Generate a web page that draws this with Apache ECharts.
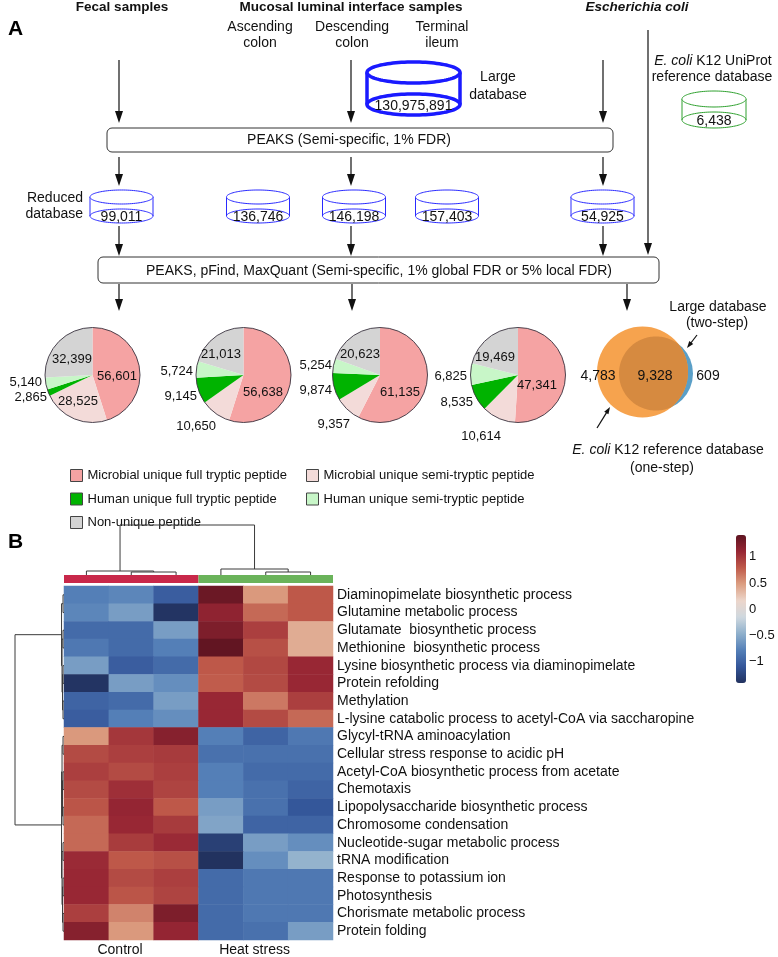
<!DOCTYPE html>
<html><head><meta charset="utf-8">
<script src="https://cdn.jsdelivr.net/npm/echarts@6/dist/echarts.min.js"></script>
<style>html,body{margin:0;padding:0;background:#fff}#c{width:778px;height:957px}</style>
</head><body><div id="c"></div>
<script>
// ---------------- DATA ----------------
const pieCategories = ['Microbial unique full tryptic peptide','Microbial unique semi-tryptic peptide','Human unique full tryptic peptide','Human unique semi-tryptic peptide','Non-unique peptide'];
const pieFecal = [56601, 28525, 2865, 5140, 32399];
const pieAscending = [56638, 10650, 9145, 5724, 21013];
const pieDescending = [61135, 9357, 9874, 5254, 20623];
const pieIleum = [47341, 10614, 8535, 6825, 19469];
const reducedDbSizes = [99011, 136746, 146198, 157403, 54925];
const largeDbSize = 130975891;
const ecoliDbSize = 6438;
const vennCounts = [4783, 9328, 609];

const heatRows = [
'Diaminopimelate biosynthetic process',
'Glutamine metabolic process',
'Glutamate  biosynthetic process',
'Methionine  biosynthetic process',
'Lysine biosynthetic process via diaminopimelate',
'Protein refolding',
'Methylation',
'L-lysine catabolic process to acetyl-CoA via saccharopine',
'Glycyl-tRNA aminoacylation',
'Cellular stress response to acidic pH',
'Acetyl-CoA biosynthetic process from acetate',
'Chemotaxis',
'Lipopolysaccharide biosynthetic process',
'Chromosome condensation',
'Nucleotide-sugar metabolic process',
'tRNA modification',
'Response to potassium ion',
'Photosynthesis',
'Chorismate metabolic process',
'Protein folding'];
const heatCols = ['Control 1','Control 2','Control 3','Heat stress 1','Heat stress 2','Heat stress 3'];
const groupLabels = ['Control','Heat stress'];
const heatValues = [
[-0.80,-0.75,-1.05, 1.35, 0.50, 0.80],
[-0.75,-0.60,-1.40, 1.15, 0.72, 0.80],
[-0.95,-0.95,-0.60, 1.25, 0.95, 0.40],
[-0.85,-0.95,-0.80, 1.40, 0.85, 0.40],
[-0.60,-1.05,-0.95, 0.80, 0.90, 1.10],
[-1.40,-0.60,-0.70, 0.78, 0.88, 1.10],
[-1.00,-0.95,-0.60, 1.10, 0.65, 0.95],
[-1.05,-0.80,-0.70, 1.10, 0.88, 0.72],
[ 0.50, 1.00, 1.20,-0.80,-1.00,-0.85],
[ 0.88, 0.95, 0.98,-0.90,-0.90,-0.90],
[ 0.95, 0.88, 0.95,-0.80,-0.95,-0.95],
[ 0.88, 1.05, 0.92,-0.80,-0.90,-1.00],
[ 0.82, 1.12, 0.80,-0.60,-0.90,-1.10],
[ 0.72, 1.10, 0.98,-0.55,-1.00,-1.00],
[ 0.72, 0.97, 1.08,-1.30,-0.60,-0.70],
[ 1.08, 0.80, 0.85,-1.45,-0.70,-0.45],
[ 1.10, 0.88, 0.95,-0.95,-0.85,-0.85],
[ 1.10, 0.82, 0.92,-0.95,-0.85,-0.85],
[ 0.95, 0.60, 1.25,-0.95,-0.85,-0.85],
[ 1.20, 0.50, 1.12,-0.95,-0.90,-0.60]];
const colorbarTicks = [1, 0.5, 0, -0.5, -1];
const colorRange = [-1.42, 1.42];
// dendrograms: [left, right, height]
const colTree = [[0, [1, 2, 0.06], 0.08], [3, [4, 5, 0.06], 0.12], 1.0];
const rowTree = [
  [[0, 1, 0.02], [[2, 3, 0.02], [[4, 5, 0.02], [6, 7, 0.02], 0.03], 0.04], 0.05],
  [[[8, 9, 0.02], [[10, 11, 0.02], [12, 13, 0.02], 0.03], 0.04], [[14, 15, 0.02], [[16, 17, 0.02], [18, 19, 0.02], 0.03], 0.04], 0.05],
  1.0];

// ---------------- STYLE / LAYOUT ----------------
const FONT = '"Liberation Sans", Arial, Helvetica, sans-serif';
const pieColors = ['#f5a3a3', '#f3dbd9', '#00b300', '#c8f6c8', '#d4d4d4'];
const heatPalette = ['#22325f','#34569a','#5580b8','#8fb0cc','#cfd8df','#ecd6cb','#dc9f82','#bf5a4a','#972634','#5e1421'];
const pieGeom = [[92.5, 375], [243.5, 375], [380, 375], [518, 375]];
const pieRadius = 47.5;
const pieLabelLayout = [
  [[117,376,'center'],[78,401,'center'],[47,397,'right'],[42,382,'right'],[72,359,'center']],
  [[263,392,'center'],[216,426,'right'],[197,396,'right'],[193,371,'right'],[221,354,'center']],
  [[400,392,'center'],[350,424,'right'],[332,390,'right'],[332,365,'right'],[360,354,'center']],
  [[537,385,'center'],[501,436,'right'],[473,402,'right'],[467,376,'right'],[495,357,'center']]
];
const fmt = v => Number(v).toLocaleString('en-US');

function txt(s, x, y, o) {
  o = o || {};
  const size = o.size || 14, weight = o.weight || 'normal', st = o.fontStyle || 'normal', align = o.align || 'center';
  const style = {text: s, x: x, y: y, fill: o.color || '#111', font: st + ' ' + weight + ' ' + size + 'px ' + FONT,
    align: align, verticalAlign: 'middle', textAlign: align, textVerticalAlign: 'middle'};
  if (o.rich) style.rich = o.rich;
  return {type: 'text', silent: true, z: 20, style: style};
}
function line(x1, y1, x2, y2, c, w) {
  return {type: 'line', silent: true, z: 10, shape: {x1, y1, x2, y2}, style: {stroke: c || '#111', lineWidth: w || 1}};
}
function arrow(x1, y1, x2, y2, hl, hw, c) {
  hl = hl || 12; hw = hw || 4; c = c || '#111';
  const dx = x2 - x1, dy = y2 - y1, L = Math.hypot(dx, dy), ux = dx / L, uy = dy / L;
  const bx = x2 - ux * hl, by = y2 - uy * hl;
  return [line(x1, y1, bx + ux * 1, by + uy * 1, c, 1.2),
    {type: 'polygon', silent: true, z: 10, shape: {points: [[x2, y2], [bx - uy * hw, by + ux * hw], [bx + uy * hw, by - ux * hw]]}, style: {fill: c}}];
}
function ellipse(cx, cy, rx, ry, stroke, lw, fill) {
  const pts = [];
  for (let i = 0; i < 96; i++) { const a = i / 96 * Math.PI * 2; pts.push([cx + rx * Math.cos(a), cy + ry * Math.sin(a)]); }
  return {type: 'polygon', silent: true, z: 10, shape: {points: pts}, style: {fill: fill || 'none', stroke: stroke, lineWidth: lw}};
}
function cylinder(cx, ty, by, rx, ry, color, lw) {
  return [ellipse(cx, by, rx, ry, color, lw, '#fff'),
    line(cx - rx, ty, cx - rx, by, color, lw), line(cx + rx, ty, cx + rx, by, color, lw),
    ellipse(cx, ty, rx, ry, color, lw, '#fff')];
}
function roundBox(x, y, w, h) {
  return {type: 'rect', silent: true, z: 5, shape: {x, y, width: w, height: h, r: 5}, style: {fill: '#fff', stroke: '#333', lineWidth: 1}};
}

// ---------------- CHART ----------------
const chart = echarts.init(document.getElementById('c'), null, {renderer: 'canvas'});

const heatData = [];
heatValues.forEach((row, r) => row.forEach((v, c) => heatData.push([c, r, v])));

const pieSets = [pieFecal, pieAscending, pieDescending, pieIleum];
const series = [{
  type: 'heatmap', data: heatData, silent: true, itemStyle: {borderWidth: 0}, emphasis: {disabled: true}
}];
pieSets.forEach((vals, i) => {
  series.push({
    type: 'pie', center: pieGeom[i], radius: pieRadius, startAngle: 90, clockwise: true, silent: true,
    emphasis: {disabled: true}, legendHoverLink: false,
    data: pieCategories.map((n, j) => ({name: n, value: vals[j], itemStyle: {color: pieColors[j]}})),
    itemStyle: {borderWidth: 0},
    label: {show: true, position: 'inside', formatter: p => fmt(p.value), fontSize: 13, color: '#111', fontFamily: FONT},
    labelLine: {show: false},
    labelLayout: function (params) {
      const L = pieLabelLayout[i][params.dataIndex];
      return {x: L[0], y: L[1], align: L[2], verticalAlign: 'middle', hideOverlap: false, moveOverlap: null};
    }
  });
  series.push({
    type: 'pie', center: pieGeom[i], radius: pieRadius, silent: true, emphasis: {disabled: true},
    data: [{name: '_outline', value: 1}], label: {show: false}, labelLine: {show: false},
    itemStyle: {color: 'rgba(0,0,0,0)', borderColor: '#3a3340', borderWidth: 0.9}
  });
});

const legendCommon = {orient: 'vertical', padding: 0, itemWidth: 12, itemHeight: 12, itemGap: 10.5, icon: 'rect',
  selectedMode: false, textStyle: {fontSize: 13, color: '#111', fontFamily: FONT},
  itemStyle: {borderColor: '#444', borderWidth: 1}};

chart.setOption({
  animation: false,
  textStyle: {fontFamily: FONT},
  legend: [
    Object.assign({}, legendCommon, {left: 70, top: 469, data: [pieCategories[0], pieCategories[2], pieCategories[4]]}),
    Object.assign({}, legendCommon, {left: 306, top: 469, data: [pieCategories[1], pieCategories[3]]})
  ],
  grid: {left: 64, top: 586, width: 269, height: 354, containLabel: false},
  xAxis: {type: 'category', data: heatCols, show: false},
  yAxis: {type: 'category', data: heatRows, inverse: true, position: 'right',
    axisLine: {show: false}, axisTick: {show: false}, splitLine: {show: false},
    axisLabel: {interval: 0, margin: 4, fontSize: 14, color: '#111', fontFamily: FONT, align: 'left'}},
  visualMap: {type: 'continuous', seriesIndex: 0, min: colorRange[0], max: colorRange[1], calculable: false,
    hoverLink: false, orient: 'vertical', left: 736, top: 535, itemWidth: 10, itemHeight: 148, padding: 0,
    inRange: {color: heatPalette}, text: null, showLabel: false},
  series: series
});

// ---------------- GRAPHICS ----------------
const G = [];
const push = a => Array.isArray(a) ? a.forEach(e => G.push(e)) : G.push(a);

// headers
push(txt('A', 8, 29, {size: 21, weight: 'bold', align: 'left', color: '#000'}));
push(txt('Fecal samples', 122, 7, {size: 13.5, weight: 'bold'}));
push(txt('Mucosal luminal interface samples', 351, 7, {size: 13.5, weight: 'bold'}));
push(txt('Escherichia coli', 637, 7, {size: 13.5, weight: 'bold', fontStyle: 'italic'}));
push(txt('Ascending', 260, 27)); push(txt('colon', 260, 43));
push(txt('Descending', 352, 27)); push(txt('colon', 352, 43));
push(txt('Terminal', 442, 27)); push(txt('ileum', 442, 43));

// large database cylinder
push(cylinder(413.5, 72.5, 104.5, 46.5, 10.5, '#1a1aff', 3.5));
push(txt(fmt(largeDbSize), 413.5, 106));
push(txt('Large', 498, 77)); push(txt('database', 498, 95));

// E. coli reference db
push({type: 'text', silent: true, z: 20, style: {text: '{i|E. coli} K12 UniProt', x: 713, y: 61, fill: '#111',
  font: 'normal normal 14px ' + FONT, align: 'center', verticalAlign: 'middle', textAlign: 'center', textVerticalAlign: 'middle',
  rich: {i: {fontStyle: 'italic', fontSize: 14, fontFamily: FONT, fill: '#111'}}}});
push(txt('reference database', 712, 77));
push(cylinder(714, 99, 120, 32, 8, '#2ea02e', 1));
push(txt(fmt(ecoliDbSize), 714, 121));

// top arrows
[119, 351, 603].forEach(x => push(arrow(x, 60, x, 123)));
push(arrow(648, 30, 648, 255));

// PEAKS box 1
push(roundBox(107, 128, 506, 24));
push(txt('PEAKS (Semi-specific, 1% FDR)', 349, 140));
[119, 351, 603].forEach(x => push(arrow(x, 157, x, 186)));

// reduced databases
const cylX = [121.5, 258, 354, 447, 602.5];
cylX.forEach((cx, i) => { push(cylinder(cx, 197, 216, 31.5, 7, '#2a2aff', 1)); push(txt(fmt(reducedDbSizes[i]), cx, 217)); });
push(txt('Reduced', 83, 198, {align: 'right'})); push(txt('database', 83, 214, {align: 'right'}));
[119, 351, 603].forEach(x => push(arrow(x, 226, x, 256)));

// box 2
push(roundBox(98, 257, 561, 26));
push(txt('PEAKS, pFind, MaxQuant (Semi-specific, 1% global FDR or 5% local FDR)', 379, 271));
[119, 352, 627].forEach(x => push(arrow(x, 284, x, 311)));

// Venn
const O = {x: 642.5, y: 372, r: 45.5}, Bc = {x: 656, y: 373.5, r: 37};
push({type: 'circle', silent: true, z: 6, shape: {cx: Bc.x, cy: Bc.y, r: Bc.r}, style: {fill: '#5a9fc7'}});
push({type: 'circle', silent: true, z: 7, shape: {cx: O.x, cy: O.y, r: O.r}, style: {fill: '#f6a34e'}});
const lens = [];
for (let i = 0; i < 180; i++) {
  const a = i / 180 * Math.PI * 2; let px = Bc.x + Bc.r * Math.cos(a), py = Bc.y + Bc.r * Math.sin(a);
  const d = Math.hypot(px - O.x, py - O.y);
  if (d > O.r) { px = O.x + (px - O.x) * O.r / d; py = O.y + (py - O.y) * O.r / d; }
  lens.push([px, py]);
}
push({type: 'polygon', silent: true, z: 8, shape: {points: lens}, style: {fill: '#d68a40'}});
push(txt(fmt(vennCounts[0]), 598, 376));
push(txt(fmt(vennCounts[1]), 655, 376));
push(txt(fmt(vennCounts[2]), 708, 376));
push(txt('Large database', 718, 307)); push(txt('(two-step)', 717, 323));
push(arrow(697, 335, 687, 348, 7, 2.5));
push(arrow(597, 428, 610, 407, 7, 2.5));
push({type: 'text', silent: true, z: 20, style: {text: '{i|E. coli} K12 reference database', x: 668, y: 450, fill: '#111',
  font: 'normal normal 14px ' + FONT, align: 'center', verticalAlign: 'middle', textAlign: 'center', textVerticalAlign: 'middle',
  rich: {i: {fontStyle: 'italic', fontSize: 14, fontFamily: FONT, fill: '#111'}}}});
push(txt('(one-step)', 662, 468));

// Panel B
push(txt('B', 8, 542, {size: 21, weight: 'bold', align: 'left', color: '#000'}));

const px = (c, r) => chart.convertToPixel({gridIndex: 0}, [c, r]);
const colX = i => px(i, 0)[0];
const rowY = i => px(0, i)[1];
const cellW = colX(1) - colX(0);
const barTop = 575, barBot = 583;
const gridLeft = colX(0) - cellW / 2;

function drawTree(node, leafPos, hPix, vertical) {
  if (typeof node === 'number') return {p: leafPos(node), h: 0};
  const a = drawTree(node[0], leafPos, hPix, vertical), b = drawTree(node[1], leafPos, hPix, vertical);
  const h = node[2];
  let pts;
  if (vertical) pts = [[a.p, hPix(a.h)], [a.p, hPix(h)], [b.p, hPix(h)], [b.p, hPix(b.h)]];
  else pts = [[hPix(a.h), a.p], [hPix(h), a.p], [hPix(h), b.p], [hPix(b.h), b.p]];
  G.push({type: 'polyline', silent: true, z: 10, shape: {points: pts}, style: {stroke: '#3a3a3a', lineWidth: 1, fill: null}});
  return {p: (a.p + b.p) / 2, h: h, a: a, b: b};
}
const ct = drawTree(colTree, colX, h => barTop - h * 50, true);
drawTree(rowTree, rowY, h => gridLeft - h * 49, false);

// group colour bar
const groupColors = ['#c8284a', '#6ab35a'];
[[0, 2], [3, 5]].forEach((g, k) => {
  const x0 = colX(g[0]) - cellW / 2, x1 = colX(g[1]) + cellW / 2;
  G.push({type: 'rect', silent: true, z: 10, shape: {x: x0, y: barTop, width: x1 - x0, height: barBot - barTop}, style: {fill: groupColors[k]}});
});
push(txt(groupLabels[0], ct.a.p, 950));
push(txt(groupLabels[1], ct.b.p, 950));

// colour bar ticks
const cbTop = 535, cbH = 148;
colorbarTicks.forEach(v => {
  const y = cbTop + (colorRange[1] - v) / (colorRange[1] - colorRange[0]) * cbH;
  push(txt(String(v).replace('-', '\u2212'), 749, y, {size: 13, align: 'left'}));
});

chart.setOption({graphic: {elements: G}});
</script>
</body></html>
